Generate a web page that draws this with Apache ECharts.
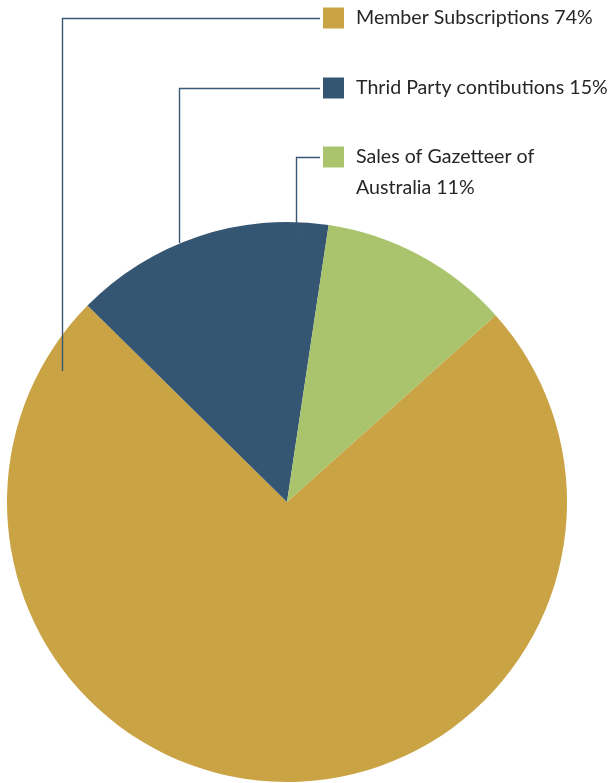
<!DOCTYPE html>
<html>
<head>
<meta charset="utf-8">
<title>Income sources</title>
<style>
  html, body { margin: 0; padding: 0; background: #ffffff; }
  #chart { width: 614px; height: 783px; }
</style>
<script src="https://cdn.jsdelivr.net/npm/echarts@6/dist/echarts.min.js"></script>
</head>
<body>
<div id="chart"></div>
<script>
// Income sources and their shares (%)
const categories = ['Member Subscriptions', 'Thrid Party contibutions', 'Sales of Gazetteer of Australia'];
const shares = [74, 15, 11];
const colors = ['#C9A344', '#345672', '#A9C46C'];

// Legend / leader line layout (pixels)
const FONT_FAMILY = 'Lato, "Open Sans", sans-serif';
const FONT_SIZE = 19.6;
const LINE_HEIGHT = 31;
const legendX = 323;          // left edge of the colour square
const legendTextX = 356;      // left edge of the text
const legendRowY = [18, 88, 157]; // centre of each entry's first line
const squareSize = 21;
const textMaxWidth = 255;
const leaderElbowX = [62, 179, 296];
const leaderEndY = [371, 243, 244];
const leaderColor = '#3a5873';

// Break a label into lines no wider than maxWidth
function wrapText(text, maxWidth) {
  const ctx = document.createElement('canvas').getContext('2d');
  ctx.font = FONT_SIZE + 'px ' + FONT_FAMILY;
  const words = text.split(' ');
  const lines = [];
  let line = '';
  words.forEach(w => {
    const trial = line ? line + ' ' + w : w;
    if (line && ctx.measureText(trial).width > maxWidth) {
      lines.push(line);
      line = w;
    } else {
      line = trial;
    }
  });
  if (line) lines.push(line);
  return lines.join('\n');
}

const graphics = [];
categories.forEach((name, i) => {
  const cy = legendRowY[i];
  graphics.push({
    type: 'polyline',
    z: 100,
    silent: true,
    shape: {
      points: [
        [legendX - 3, cy + 0.5],
        [leaderElbowX[i] + 0.5, cy + 0.5],
        [leaderElbowX[i] + 0.5, leaderEndY[i]]
      ]
    },
    style: { stroke: leaderColor, lineWidth: 1.4, fill: null }
  });
  graphics.push({
    type: 'rect',
    z: 100,
    silent: true,
    shape: { x: legendX, y: cy - squareSize / 2, width: squareSize, height: squareSize },
    style: { fill: colors[i] }
  });
  graphics.push({
    type: 'text',
    z: 100,
    silent: true,
    x: legendTextX,
    y: cy - LINE_HEIGHT / 2,
    style: {
      text: wrapText(name + ' ' + shares[i] + '%', textMaxWidth),
      fill: '#262626',
      fontSize: FONT_SIZE,
      fontFamily: FONT_FAMILY,
      lineHeight: LINE_HEIGHT,
      verticalAlign: 'top',
      align: 'left'
    }
  });
});

const chart = echarts.init(document.getElementById('chart'), null, { renderer: 'canvas' });
chart.setOption({
  animation: false,
  backgroundColor: '#ffffff',
  series: [{
    type: 'pie',
    center: [287, 502],
    radius: 280,
    startAngle: 41.85,
    clockwise: true,
    label: { show: false },
    labelLine: { show: false },
    emphasis: { disabled: true },
    itemStyle: { borderWidth: 0 },
    data: categories.map((name, i) => ({
      name: name,
      value: shares[i],
      itemStyle: { color: colors[i] }
    }))
  }],
  graphic: graphics
});
</script>
</body>
</html>
